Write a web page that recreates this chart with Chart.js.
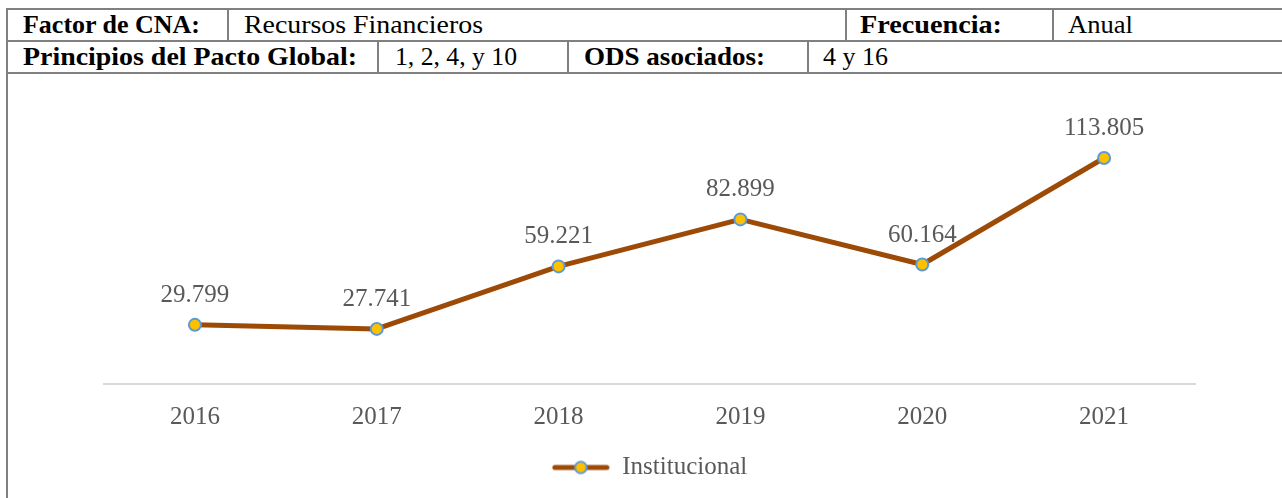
<!DOCTYPE html>
<html><head><meta charset="utf-8">
<script src="https://cdn.jsdelivr.net/npm/chart.js@4.4.0/dist/chart.umd.min.js"></script>
<style>
html,body{margin:0;padding:0;background:#fff;}
#page{position:relative;width:1282px;height:498px;overflow:hidden;background:#fff;}
.ln{position:absolute;background:#808080;}
.tx{position:absolute;font-family:"Liberation Serif",serif;font-size:26px;line-height:32px;height:32px;white-space:nowrap;color:#000;transform-origin:0 50%;}
.b{font-weight:bold;}
#chartBox{position:absolute;left:8px;top:74px;width:1274px;height:424px;}
</style></head><body>
<div id="page">
  <div class="ln" style="left:6px;top:8px;width:1276px;height:2px"></div>
  <div class="ln" style="left:6px;top:40px;width:1276px;height:2px"></div>
  <div class="ln" style="left:6px;top:72px;width:1276px;height:2px"></div>
  <div class="ln" style="left:6px;top:8px;width:2px;height:490px"></div>
  <div class="ln" style="left:227px;top:8px;width:2px;height:34px"></div>
  <div class="ln" style="left:845px;top:8px;width:2px;height:34px"></div>
  <div class="ln" style="left:1052px;top:8px;width:2px;height:34px"></div>
  <div class="ln" style="left:377px;top:40px;width:2px;height:34px"></div>
  <div class="ln" style="left:567px;top:40px;width:2px;height:34px"></div>
  <div class="ln" style="left:807px;top:40px;width:2px;height:34px"></div>

  <div class="tx b" style="left:23px;top:9px" data-w="177">Factor de CNA:</div>
  <div class="tx" style="left:244px;top:9px" data-w="239">Recursos Financieros</div>
  <div class="tx b" style="left:860px;top:9px" data-w="142">Frecuencia:</div>
  <div class="tx" style="left:1068px;top:9px" data-w="65">Anual</div>
  <div class="tx b" style="left:23px;top:41px" data-w="334">Principios del Pacto Global:</div>
  <div class="tx" style="left:395px;top:41px" data-w="122">1, 2, 4, y 10</div>
  <div class="tx b" style="left:584px;top:41px" data-w="181">ODS asociados:</div>
  <div class="tx" style="left:823px;top:41px" data-w="65">4 y 16</div>

  <div id="chartBox"><canvas id="c"></canvas></div>
</div>
<script>
// ---- data ----
const categories = ['2016', '2017', '2018', '2019', '2020', '2021'];
const institucional = [29799, 27741, 59221, 82899, 60164, 113805];
const seriesName = 'Institucional';
const yMin = 0;
const yMax = 140000;

// ---- header text fitting ----
document.querySelectorAll('.tx').forEach(el => {
  const target = parseFloat(el.dataset.w);
  const w = el.getBoundingClientRect().width;
  if (w > 0) el.style.transform = 'scaleX(' + (target / w) + ')';
});

const lineColor = '#9C4A06';
const pointFill = '#FFC000';
const pointBorder = '#5B9BD5';
const textColor = '#595959';
const fontFam = '"Liberation Serif", serif';

function fmt(v) {
  return String(v).replace(/\B(?=(\d{3})+(?!\d))/g, '.');
}

// legend marker (line + circle)
const mk = document.createElement('canvas');
mk.width = 58; mk.height = 16;
(function () {
  const m = mk.getContext('2d');
  m.strokeStyle = lineColor; m.lineWidth = 5; m.lineCap = 'round';
  m.beginPath(); m.moveTo(3, 8); m.lineTo(55, 8); m.stroke();
  m.beginPath(); m.arc(29, 8, 5.8, 0, Math.PI * 2);
  m.fillStyle = pointFill; m.fill();
  m.lineWidth = 2; m.strokeStyle = pointBorder; m.stroke();
})();

const valueLabels = {
  id: 'valueLabels',
  afterDatasetsDraw(chart) {
    const ctx = chart.ctx;
    chart.data.datasets.forEach((ds, i) => {
      const meta = chart.getDatasetMeta(i);
      meta.data.forEach((pt, j) => {
        ctx.save();
        ctx.font = '25px ' + fontFam;
        ctx.fillStyle = textColor;
        ctx.textAlign = 'center';
        ctx.textBaseline = 'alphabetic';
        ctx.fillText(fmt(ds.data[j]), pt.x, pt.y - 23);
        ctx.restore();
      });
    });
  }
};

new Chart(document.getElementById('c'), {
  type: 'line',
  data: {
    labels: categories,
    datasets: [{
      label: seriesName,
      data: institucional,
      borderColor: lineColor,
      backgroundColor: pointFill,
      borderWidth: 5,
      borderCapStyle: 'round',
      borderJoinStyle: 'round',
      tension: 0,
      pointStyle: 'circle',
      pointRadius: 6,
      pointHoverRadius: 6,
      pointBackgroundColor: pointFill,
      pointBorderColor: pointBorder,
      pointBorderWidth: 2,
      fill: false
    }]
  },
  options: {
    responsive: true,
    maintainAspectRatio: false,
    devicePixelRatio: 1,
    animation: false,
    events: [],
    layout: { padding: { left: 96, right: 87, top: 32, bottom: 8 } },
    scales: {
      x: {
        type: 'category',
        offset: true,
        grid: { display: true, drawOnChartArea: false, drawTicks: false },
        border: { display: true, color: '#D9D9D9', width: 2 },
        ticks: { color: textColor, font: { family: fontFam, size: 25 }, padding: 18, maxRotation: 0 }
      },
      y: {
        display: false,
        min: yMin,
        max: yMax
      }
    },
    plugins: {
      tooltip: { enabled: false },
      legend: {
        display: true,
        position: 'bottom',
        labels: {
          color: textColor,
          font: { family: fontFam, size: 25 },
          usePointStyle: true,
          pointStyleWidth: 58,
          padding: 5,
          generateLabels(chart) {
            const items = Chart.defaults.plugins.legend.labels.generateLabels(chart);
            items.forEach(it => { it.pointStyle = mk; it.fontColor = textColor; });
            return items;
          }
        }
      }
    }
  },
  plugins: [valueLabels]
});
</script>
</body></html>
